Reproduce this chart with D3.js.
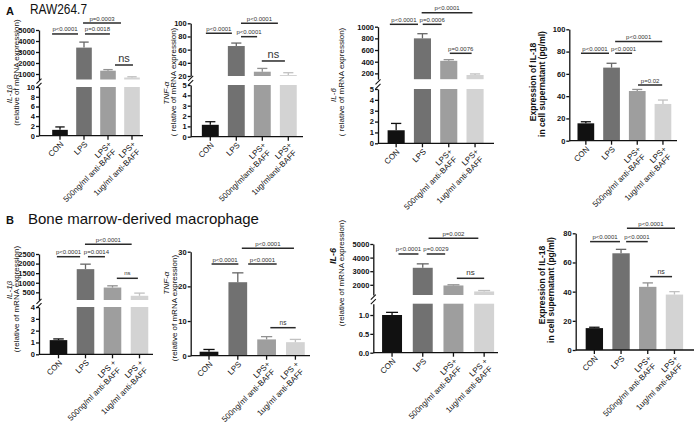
<!DOCTYPE html>
<html><head><meta charset="utf-8">
<script src="https://cdn.jsdelivr.net/npm/d3@7"></script>
<style>body{margin:0;background:#fff}svg{display:block}text{font-family:"Liberation Sans",Arial,sans-serif}</style>
</head><body>
<script>
// ---------- DATA ----------
const categories = ["CON", "LPS", "LPS+500", "LPS+1ug"];
const barColors = ["#111111", "#717171", "#9e9e9e", "#d3d3d3"];

const xLabA = [["CON"], ["LPS"], ["LPS+", "500ng/ml anti-BAFF"], ["LPS+", "1ug/ml anti-BAFF"]];
const xLabA2 = [["CON"], ["LPS"], ["LPS+", "500ng/mlanti-BAFF"], ["LPS+", "1ug/mlanti-BAFF"]];
const xLabB1 = [["CON"], ["LPS"], ["LPS +", "500ng/ml anti-BAFF"], ["LPS +", "1ug/ml anti-BAFF"]];
const xLabB2 = [["CON"], ["LPS"], ["LPS+", "500ng/ml anti-BAFF"], ["LPS +", "1ug/ml anti-BAFF"]];
const xLabB4 = [["CON"], ["LPS"], ["LPS+", "500ng/ml anti-BAFF"], ["LPS+", "1ug/ml anti-BAFF"]];

// A: RAW264.7
const a1Values = [1.2, 3400, 1300, 680];
const a1Errors = [1.8, 3900, 1400, 750];
const a1TicksLow = [0, 2, 4, 6, 8, 10];
const a1TicksHigh = [1000, 2000, 3000, 4000, 5000];
const a1Sig = [
  {from: -0.33, to: 0.75, level: 4640, label: "p<0.0001"},
  {from: 1.04, to: 2.08, level: 4640, label: "p=0.0018"},
  {from: 0.96, to: 2.54, level: 5636, label: "p=0.0003"},
  {from: 2.29, to: 3.04, level: 1818, label: "ns"}];

const a2Values = [1.15, 65.5, 26.5, 21.5];
const a2Errors = [1.45, 70, 31.5, 25];
const a2TicksLow = [0, 1, 2, 3, 4, 5];
const a2TicksHigh = [20, 40, 60, 80, 100];
const a2Sig = [
  {from: -0.17, to: 0.83, level: 84.9, label: "p<0.0001"},
  {from: 1.18, to: 1.8, level: 79.7, label: "p<0.0001"},
  {from: 1.18, to: 2.6, level: 100, label: "p<0.0001"},
  {from: 1.98, to: 2.87, level: 42.8, label: "ns"}];

const a3Values = [1.2, 800, 415, 172];
const a3Errors = [1.83, 880, 435, 190];
const a3TicksLow = [0, 1, 2, 3, 4, 5];
const a3TicksHigh = [200, 400, 600, 800, 1000];
const a3Sig = [
  {from: -0.24, to: 0.83, level: 1041, label: "p<0.0001"},
  {from: 1.01, to: 1.73, level: 1041, label: "p=0.0006"},
  {from: 0.97, to: 2.9, level: 1240, label: "p<0.0001"},
  {from: 2.04, to: 2.87, level: 544, label: "p=0.0076"}];

const a4Values = [15.6, 65.6, 44.6, 33];
const a4Errors = [17, 69.5, 46, 36.5];
const a4Ticks = [0, 20, 40, 60, 80, 100];
const a4Sig = [
  {from: -0.19, to: 0.9, level: 78.5, label: "p<0.0001"},
  {from: 1.14, to: 1.8, level: 78.5, label: "p<0.0001"},
  {from: 1.14, to: 2.97, level: 89, label: "p<0.0001"},
  {from: 2.03, to: 2.97, level: 50, label: "p=0.02"}];

// B: Bone marrow-derived macrophage
const b1Values = [1.2, 1710, 750, 320];
const b1Errors = [1.3, 1970, 840, 460];
const b1TicksLow = [0, 1, 2, 3, 4];
const b1TicksHigh = [500, 1000, 1500, 2000, 2500];
const b1Sig = [
  {from: -0.06, to: 0.8, level: 2359, label: "p<0.0001"},
  {from: 1.09, to: 1.72, level: 2359, label: "p=0.0014"},
  {from: 0.98, to: 2.71, level: 3006, label: "p<0.0001"},
  {from: 2.16, to: 2.94, level: 1232, label: "ns"}];

const b2Values = [1.15, 21.2, 4.7, 3.9];
const b2Errors = [1.8, 23.9, 5.5, 4.7];
const b2Ticks = [0, 10, 20, 30];
const b2Sig = [
  {from: 0.09, to: 1.02, level: 26.45, label: "p<0.0001"},
  {from: 1.36, to: 2.35, level: 26.45, label: "p<0.0001"},
  {from: 1.14, to: 2.95, level: 31, label: "p<0.0001"},
  {from: 2.13, to: 3.01, level: 8.08, label: "ns"}];

const b3Values = [1.0, 3250, 1950, 1510];
const b3Errors = [1.07, 3540, 2000, 1580];
const b3TicksLow = [0, 0.5, 1.0];
const b3TicksHigh = [2000, 3000, 4000, 5000];
const b3Sig = [
  {from: 0.21, to: 0.86, level: 4265, label: "p<0.0001"},
  {from: 1.13, to: 1.73, level: 4265, label: "p=0.0029"},
  {from: 1.19, to: 2.81, level: 5419, label: "p=0.002"},
  {from: 2.11, to: 3.0, level: 2478, label: "ns"}];

const b4Values = [15, 66.3, 43.3, 38];
const b4Errors = [15.6, 69, 46, 40];
const b4Ticks = [0, 20, 40, 60, 80];
const b4Sig = [
  {from: -0.16, to: 0.96, level: 74.3, label: "p<0.0001"},
  {from: 1.19, to: 2.0, level: 74.3, label: "p<0.0001"},
  {from: 1.22, to: 3.02, level: 83.5, label: "p<0.0001"},
  {from: 2.09, to: 2.91, level: 50.3, label: "ns"}];

// ---------- DRAW ----------
const svg = d3.select("body").append("svg").attr("width", 694).attr("height", 431);
svg.append("rect").attr("width", 694).attr("height", 431).attr("fill", "#fff");

function drawPanel(L, D) {
  const g = svg.append("g");
  const x = d3.scaleBand().domain(categories).range([L.xa, L.xb]).paddingInner(0.35).paddingOuter(0.175);
  const bw = x.bandwidth(), step = x.step();
  const cx = t => x(categories[0]) + bw / 2 + t * step;
  const ys = L.segs.map(s => d3.scaleLinear().domain(s.domain).range(s.range));
  const y0 = ys[0](0);
  const segOf = v => { for (let k = L.segs.length - 1; k >= 0; k--) if (v > L.segs[k].domain[0]) return k; return 0; };

  // bars
  D.values.forEach((v, i) => {
    L.segs.forEach((s, k) => {
      const lo = s.domain[0], hi = s.domain[1];
      if (v <= lo) return;
      const top = Math.min(v, hi);
      g.append("rect").attr("x", x(categories[i])).attr("width", bw)
        .attr("y", ys[k](top)).attr("height", ys[k](lo) - ys[k](top))
        .attr("fill", barColors[i]);
    });
    const e = D.errors[i], k = segOf(v), c = x(categories[i]) + bw / 2;
    const col = d3.color(barColors[i]).darker(0.25).formatHex();
    g.append("line").attr("x1", c).attr("x2", c).attr("y1", ys[k](v)).attr("y2", ys[k](e))
      .attr("stroke", col).attr("stroke-width", 1.3);
    g.append("line").attr("x1", c - bw * 0.3).attr("x2", c + bw * 0.3).attr("y1", ys[k](e)).attr("y2", ys[k](e))
      .attr("stroke", col).attr("stroke-width", 1.3);
  });

  // y axes
  L.segs.forEach((s, k) => {
    const ax = d3.axisLeft(ys[k]).tickValues(s.ticks).tickSize(3).tickSizeOuter(0).tickPadding(1)
      .tickFormat(d3.format(s.fmt || "d"));
    const a = g.append("g").attr("transform", `translate(${L.axisX},0)`).call(ax);
    a.selectAll("path,line").attr("stroke", "#111").attr("stroke-width", 1.3);
    a.selectAll("text").attr("font-size", 7.5).attr("font-weight", "bold").attr("fill", "#111")
      .attr("font-family", '"Liberation Sans",Arial,sans-serif');
  });
  // break marks
  if (L.segs.length > 1) {
    const mid = (L.segs[0].range[1] + L.segs[1].range[0]) / 2;
    [-2.2, 2.2].forEach(o => {
      g.append("line").attr("x1", L.axisX - 2.5).attr("x2", L.axisX + 2.5)
        .attr("y1", mid + o + 2.5).attr("y2", mid + o - 2.5)
        .attr("stroke", "#111").attr("stroke-width", 1.1);
    });
  }
  // x axis
  g.append("line").attr("x1", L.axisX).attr("x2", L.axisEnd).attr("y1", y0).attr("y2", y0)
    .attr("stroke", "#111").attr("stroke-width", 1.3);
  categories.forEach((c, i) => {
    const xc = x(c) + bw / 2;
    g.append("line").attr("x1", xc).attr("x2", xc).attr("y1", y0).attr("y2", y0 + 4)
      .attr("stroke", "#111").attr("stroke-width", 1.3);
    const t = g.append("text").attr("transform", `translate(${xc + 2},${y0 + 7}) rotate(-45)`)
      .attr("text-anchor", "end").attr("font-size", 8).attr("fill", "#111");
    D.xlabels[i].forEach((ln, j) => {
      t.append("tspan").attr("x", j === 0 ? 0 : -2).attr("dy", j === 0 ? "0.35em" : "1.1em").text(ln);
    });
  });
  // y labels
  L.ylabels.forEach(l => {
    g.append("text").attr("transform", `translate(${l.x},${l.y}) rotate(-90)`)
      .attr("text-anchor", "middle").attr("dominant-baseline", "central")
      .attr("font-size", l.size || 8).attr("font-style", l.italic ? "italic" : "normal")
      .attr("font-weight", l.bold ? "bold" : "normal").attr("fill", "#111").text(l.t);
  });
  // significance
  const yt = ys[ys.length - 1];
  D.sig.forEach(s => {
    const yy = yt(s.level), x1 = cx(s.from), x2 = cx(s.to);
    g.append("line").attr("x1", x1).attr("x2", x2).attr("y1", yy).attr("y2", yy)
      .attr("stroke", "#2a2a2a").attr("stroke-width", 1.5);
    const ns = s.label === "ns";
    g.append("text").attr("x", (x1 + x2) / 2).attr("y", yy - (ns ? 3 : 2.5))
      .attr("text-anchor", "middle").attr("font-size", ns ? L.nsSize : 6)
      .attr("fill", "#333").text(s.label);
  });
}

const relA = "( relative of mRNA expression)";
const rel = "(relative of mRNA expression)";

drawPanel({axisX: 39, xa: 48, xb: 144, axisEnd: 143, nsSize: 11,
  segs: [{domain: [0, 10], range: [135.7, 87], ticks: a1TicksLow}, {domain: [500, 5000], range: [79.5, 30], ticks: a1TicksHigh}],
  ylabels: [{t: "IL-1β", x: 9.5, y: 94, italic: true}, {t: rel, x: 16, y: 72.5}]},
  {values: a1Values, errors: a1Errors, sig: a1Sig, xlabels: xLabA});

drawPanel({axisX: 190.7, xa: 197.3, xb: 301.3, axisEnd: 303, nsSize: 11,
  segs: [{domain: [0, 5], range: [136.7, 85], ticks: a2TicksLow}, {domain: [20, 100], range: [76, 23.3], ticks: a2TicksHigh}],
  ylabels: [{t: "TNF-α", x: 166.5, y: 93, italic: true}, {t: relA, x: 173.5, y: 82}]},
  {values: a2Values, errors: a2Errors, sig: a2Sig, xlabels: xLabA2});

drawPanel({axisX: 378, xa: 383, xb: 488.2, axisEnd: 494, nsSize: 11,
  segs: [{domain: [0, 5], range: [143.3, 89], ticks: a3TicksLow}, {domain: [100, 1000], range: [79.2, 26.7], ticks: a3TicksHigh}],
  ylabels: [{t: "IL-6", x: 333, y: 95, italic: true}, {t: relA, x: 341.5, y: 82}]},
  {values: a3Values, errors: a3Errors, sig: a3Sig, xlabels: xLabA});

drawPanel({axisX: 569.3, xa: 573, xb: 675.8, axisEnd: 677, nsSize: 11,
  segs: [{domain: [0, 100], range: [140.7, 29.3], ticks: a4Ticks}],
  ylabels: [{t: "Expression of IL-18", x: 533, y: 82, bold: true, size: 8.5}, {t: "in cell supernatant (pg/ml)", x: 542, y: 84, bold: true, size: 8.5}]},
  {values: a4Values, errors: a4Errors, sig: a4Sig, xlabels: xLabA});

drawPanel({axisX: 39, xa: 45, xb: 153, axisEnd: 153, nsSize: 6,
  segs: [{domain: [0, 4], range: [354.3, 307], ticks: b1TicksLow}, {domain: [100, 2500], range: [300, 254], ticks: b1TicksHigh}],
  ylabels: [{t: "IL-1β", x: 9.5, y: 290, italic: true}, {t: rel, x: 16, y: 299}]},
  {values: b1Values, errors: b1Errors, sig: b1Sig, xlabels: xLabB1});

drawPanel({axisX: 190.7, xa: 194.6, xb: 309.8, axisEnd: 310, nsSize: 6.5,
  segs: [{domain: [0, 30], range: [355.7, 251.7], ticks: b2Ticks}],
  ylabels: [{t: "TNF-α", x: 166.5, y: 283, italic: true}, {t: rel, x: 174, y: 308}]},
  {values: b2Values, errors: b2Errors, sig: b2Sig, xlabels: xLabB2});

drawPanel({axisX: 373.3, xa: 376.7, xb: 499.5, axisEnd: 498, nsSize: 8,
  segs: [{domain: [0, 1.3], range: [352.7, 303.7], ticks: b3TicksLow, fmt: ".1f"}, {domain: [1250, 5000], range: [295, 244], ticks: b3TicksHigh}],
  ylabels: [{t: "IL-6", x: 333, y: 256, italic: true, bold: true, size: 9}, {t: rel, x: 341.5, y: 273}]},
  {values: b3Values, errors: b3Errors, sig: b3Sig, xlabels: xLabB2});

drawPanel({axisX: 575.7, xa: 581, xb: 687.8, axisEnd: 694, nsSize: 7,
  segs: [{domain: [0, 80], range: [350, 233.3], ticks: b4Ticks}],
  ylabels: [{t: "Expression of IL-18", x: 541.7, y: 285, bold: true, size: 8.5}, {t: "in cell supernatant (pg/ml)", x: 551, y: 290, bold: true, size: 8.5}]},
  {values: b4Values, errors: b4Errors, sig: b4Sig, xlabels: xLabB4});

// titles
svg.append("text").attr("x", 6).attr("y", 15).attr("font-size", 11).attr("font-weight", "bold").attr("fill", "#111").text("A");
svg.append("text").attr("x", 30).attr("y", 14).attr("font-size", 14).attr("fill", "#111")
  .attr("textLength", 57).attr("lengthAdjust", "spacingAndGlyphs").text("RAW264.7");
svg.append("text").attr("x", 6).attr("y", 224).attr("font-size", 11).attr("font-weight", "bold").attr("fill", "#111").text("B");
svg.append("text").attr("x", 28).attr("y", 224).attr("font-size", 15).attr("fill", "#111").text("Bone marrow-derived macrophage");
</script>
</body></html>
